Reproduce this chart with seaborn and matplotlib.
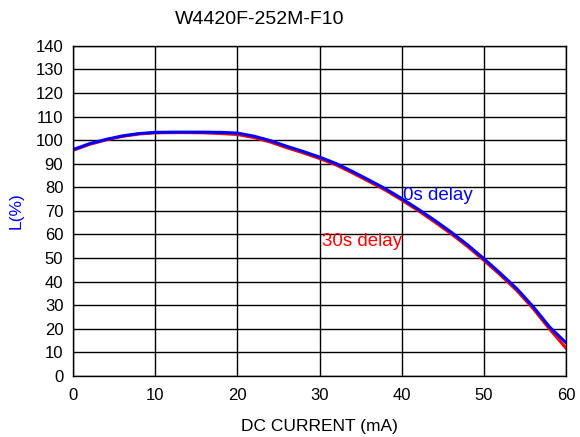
import numpy as np
import pandas as pd
import seaborn as sns
import matplotlib
matplotlib.use('Agg')
import matplotlib.pyplot as plt

current = [0, 2, 4, 6, 8, 10, 12, 14, 16, 18, 20, 22, 24, 26, 28, 30,
           32, 34, 36, 38, 40, 42, 44, 46, 48, 50, 52, 54, 56, 58, 60]
l_0s = [96, 98.5, 100.3, 101.8, 102.8, 103.3, 103.4, 103.4, 103.4, 103.3,
        103, 101.7, 99.8, 97.4, 95.2, 92.8, 90.1, 86.7, 83.1, 79.4, 75.2,
        70.7, 66.0, 61.0, 55.6, 49.7, 43.5, 37.0, 29.3, 20.7, 14.0]
l_30s = [95.7, 98.2, 100.1, 101.6, 102.6, 103.1, 103.2, 103.2, 103.1, 102.8,
         102.4, 101.1, 99.2, 96.8, 94.6, 92.2, 89.5, 86.1, 82.5, 78.8, 74.6,
         70.1, 65.3, 60.3, 54.9, 49.0, 42.8, 36.2, 28.5, 19.8, 11.7]

df = pd.concat([
    pd.DataFrame({'I': current, 'L': l_0s, 'delay': '0s delay'}),
    pd.DataFrame({'I': current, 'L': l_30s, 'delay': '30s delay'}),
])

sns.set_style('white')
plt.rcParams['font.family'] = ['Liberation Sans', 'DejaVu Sans']
plt.rcParams['text.color'] = 'black'
plt.rcParams['axes.labelcolor'] = 'black'

fig = plt.figure(figsize=(5.8, 4.37), dpi=100)
ax = fig.add_axes([0.126, 0.14, 0.85, 0.755])

sns.lineplot(data=df[df['delay'] == '30s delay'], x='I', y='L', color='#ff0000',
             linewidth=2.2, ax=ax, legend=False)
sns.lineplot(data=df[df['delay'] == '0s delay'], x='I', y='L', color='#0000ff',
             linewidth=2.2, ax=ax, legend=False)

ax.set_xlim(0, 60)
ax.set_ylim(0, 140)
ax.set_xticks(range(0, 61, 10))
ax.set_yticks(range(0, 141, 10))
ax.grid(True, color='black', linewidth=1)
ax.set_axisbelow(True)
for s in ax.spines.values():
    s.set_color('black')
    s.set_linewidth(1)
ax.tick_params(axis='both', length=0, labelsize=12, colors='black')
ax.tick_params(axis='y', pad=7)
ax.tick_params(axis='x', pad=9)

ax.set_xlabel('DC CURRENT (mA)', fontsize=12.5, va='center')
ax.xaxis.set_label_coords(0.5, -0.155)
ax.set_ylabel('L(%)', fontsize=12.5, color='#0000ff', va='center')
ax.yaxis.set_label_coords(-0.116, 0.5)

ax.text(40.1, 76.4, '0s delay', color='#0000ff', fontsize=13.5, va='center')
ax.text(30.3, 57.0, '30s delay', color='#ff0000', fontsize=13.5, va='center')

fig.text(260 / 580, 1 - 20 / 437, 'W4420F-252M-F10', ha='center', va='center',
         fontsize=14)

plt.savefig('out.png', dpi=100)
